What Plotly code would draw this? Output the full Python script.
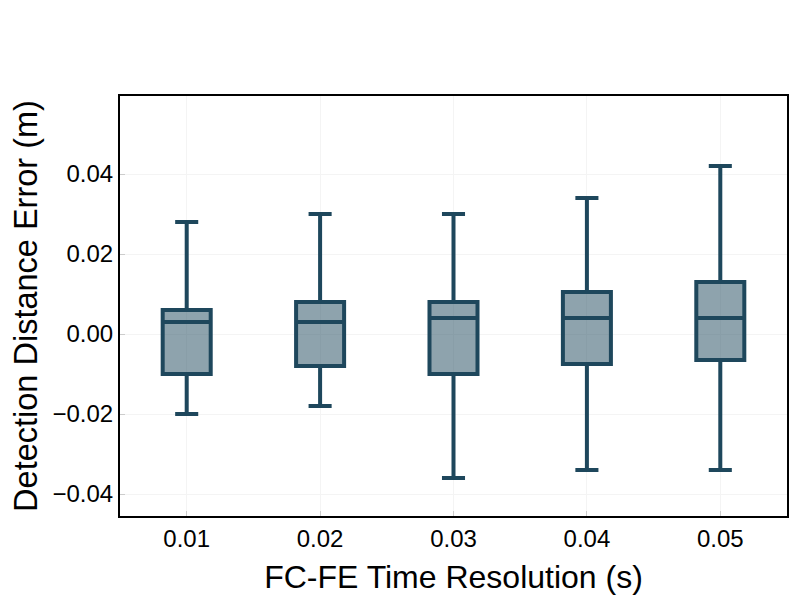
import plotly.graph_objects as go

categories = ["0.01", "0.02", "0.03", "0.04", "0.05"]
lower = [-0.020, -0.018, -0.036, -0.034, -0.034]
q1 = [-0.010, -0.008, -0.010, -0.0075, -0.0065]
median = [0.003, 0.003, 0.004, 0.004, 0.004]
q3 = [0.006, 0.008, 0.008, 0.0105, 0.013]
upper = [0.028, 0.030, 0.030, 0.034, 0.042]

line_color = "#1e475c"

fig = go.Figure()
fig.add_trace(go.Box(
    x=categories, q1=q1, median=median, q3=q3,
    lowerfence=lower, upperfence=upper,
    line=dict(color=line_color, width=4),
    fillcolor="rgba(30,71,92,0.5)",
    width=0.36, whiskerwidth=0.48,
    boxpoints=False, showlegend=False,
))

font = "Liberation Sans, Arial, sans-serif"
fig.update_layout(
    width=800, height=600,
    margin=dict(l=112, r=21, t=88, b=92),
    plot_bgcolor="white", paper_bgcolor="white",
    font=dict(family=font, color="black"),
)
fig.update_xaxes(
    automargin=False,
    title=dict(text="FC-FE Time Resolution (s)", font=dict(size=32), standoff=15),
    tickfont=dict(size=24), range=[-0.5, 4.5],
    showline=True, linecolor="black", linewidth=2, mirror=True,
    showgrid=True, gridcolor="#f4f4f4", gridwidth=1,
    ticks="inside", ticklen=5, tickcolor="#cccccc",
)
fig.update_yaxes(
    automargin=False,
    title=dict(text="Detection Distance Error (m)", font=dict(size=32.5), standoff=22),
    tickfont=dict(size=24), range=[-0.0455, 0.0595],
    tickvals=[-0.04, -0.02, 0.0, 0.02, 0.04],
    ticktext=["\u22120.04", "\u22120.02", "0.00", "0.02", "0.04"],
    showline=True, linecolor="black", linewidth=2, mirror=True,
    showgrid=True, gridcolor="#f4f4f4", gridwidth=1, zeroline=False,
    ticks="inside", ticklen=5, tickcolor="#cccccc",
)

fig.write_html("out.html")
